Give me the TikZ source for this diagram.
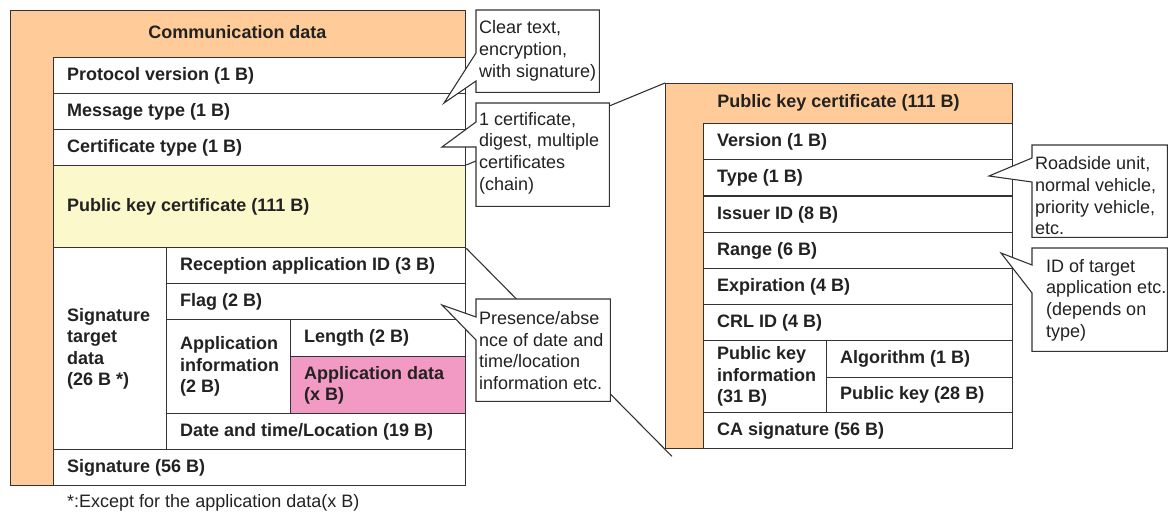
\documentclass[tikz,border=0pt]{standalone}
\usepackage{fontspec}
\setmainfont{Liberation Sans}
\usetikzlibrary{calc}
\definecolor{linec}{HTML}{333333}
\definecolor{orangef}{HTML}{FFCC99}
\definecolor{yellowf}{HTML}{FBF8CC}
\definecolor{pinkf}{HTML}{F299C4}
\definecolor{textc}{HTML}{222222}
\tikzset{
  outerbox/.style={anchor=north west, draw=linec, line width=1.3pt, fill=orangef, inner sep=0pt},
  cellbox/.style={anchor=north west, draw=linec, line width=1.3pt, inner sep=0pt},
  celltext/.style={anchor=west, align=left, inner sep=0pt, text=textc, font=\fontsize{18}{21.5}\selectfont\bfseries},
  hdrtext/.style={anchor=center, inner sep=0pt, text=textc, font=\fontsize{18}{21.5}\selectfont\bfseries},
  callframe/.style={anchor=north west, inner sep=0pt},
  callline/.style={draw=linec, line width=1.1pt, fill=white, line join=miter},
  calltext/.style={anchor=west, align=left, inner sep=0pt, text=textc, font=\fontsize{18}{21.7}\selectfont},
  expline/.style={draw=linec, line width=1.1pt},
}
\newcommand\mycell[7]{%
  \node[cellbox, fill=#6, minimum width=#4, minimum height=#5] (#1) at (#2,#3) {};
  \node[celltext] (#1t) at ([xshift=14]#1.west) {#7};}
\begin{document}
\begin{tikzpicture}[x=1pt,y=-1pt]
\useasboundingbox (0,0) rectangle (1169,513);
% left structure
\node[outerbox, minimum width=455, minimum height=475] (lout) at (10,10) {};
\node[hdrtext] (lhdr) at (237.5,32) {Communication data};
\mycell{pv}{53}{57}{412}{36}{white}{Protocol version (1 B)}
\mycell{mt}{53}{93}{412}{36}{white}{Message type (1 B)}
\mycell{ct}{53}{129}{412}{36}{white}{Certificate type (1 B)}
\mycell{pkc}{53}{165}{412}{82}{yellowf}{Public key certificate (111 B)}
\mycell{std}{53}{247}{113}{202}{white}{Signature\\target\\data\\(26 B *)}
\mycell{rai}{166}{247}{299}{36}{white}{Reception application ID (3 B)}
\mycell{flag}{166}{283}{299}{36}{white}{Flag (2 B)}
\mycell{ai}{166}{319}{124}{94}{white}{Application\\information\\(2 B)}
\mycell{len}{290}{319}{175}{37}{white}{Length (2 B)}
\mycell{ad}{290}{356}{175}{57}{pinkf}{Application data\\(x B)}
\mycell{dt}{166}{413}{299}{36}{white}{Date and time/Location (19 B)}
\mycell{sig}{53}{449}{412}{36}{white}{Signature (56 B)}
\node[anchor=west, inner sep=0pt, text=textc, font=\fontsize{18}{21.5}\selectfont] (note) at (67,503) {*:Except for the application data(x B)};
% right structure
\node[outerbox, minimum width=347, minimum height=365] (rout) at (665,83) {};
\node[hdrtext] (rhdr) at (838.5,103) {Public key certificate (111 B)};
\mycell{ver}{703}{123}{309}{36}{white}{Version (1 B)}
\mycell{typ}{703}{159}{309}{36.5}{white}{Type (1 B)}
\mycell{iss}{703}{195.5}{309}{36.5}{white}{Issuer ID (8 B)}
\mycell{rng}{703}{232}{309}{36}{white}{Range (6 B)}
\mycell{exq}{703}{268}{309}{36}{white}{Expiration (4 B)}
\mycell{crl}{703}{304}{309}{36}{white}{CRL ID (4 B)}
\mycell{pki}{703}{340}{123}{72}{white}{Public key\\information\\(31 B)}
\mycell{alg}{826}{340}{186}{36.5}{white}{Algorithm (1 B)}
\mycell{pkk}{826}{376.5}{186}{35.5}{white}{Public key (28 B)}
\mycell{cas}{703}{412}{309}{36}{white}{CA signature (56 B)}
% expansion lines
\draw[expline] (pkc.north east) -- (rout.north west);
\coordinate (lowend) at ($(pkc.south east)!1.035!(rout.south west)$);
\draw[expline] (pkc.south east) -- (lowend);
% callout 1
\node[callframe, minimum width=123, minimum height=82] (c1) at (476,10) {};
\coordinate (c1a) at (476,53); \coordinate (c1b) at (476,81); \coordinate (c1tip) at (444,103);
\draw[callline] (c1.north west) -- (c1.north east) -- (c1.south east) -- (c1.south west) -- (c1b) -- (c1tip) -- (c1a) -- cycle;
\node[calltext] (c1t) at (479,51) {Clear text,\\encryption,\\with signature)};
% callout 2
\node[callframe, minimum width=133, minimum height=103] (c2) at (476,103) {};
\coordinate (c2a) at (476,122); \coordinate (c2b) at (476,147); \coordinate (c2tip) at (442,147);
\draw[callline] (c2.north west) -- (c2.north east) -- (c2.south east) -- (c2.south west) -- (c2b) -- (c2tip) -- (c2a) -- cycle;
\node[calltext] (c2t) at (479,153) {1 certificate,\\digest, multiple\\certificates\\(chain)};
% callout 3
\node[callframe, minimum width=134, minimum height=102] (c3) at (476,299) {};
\coordinate (c3a) at (476,317); \coordinate (c3b) at (476,340); \coordinate (c3tip) at (442,305);
\draw[callline] (c3.north west) -- (c3.north east) -- (c3.south east) -- (c3.south west) -- (c3b) -- (c3tip) -- (c3a) -- cycle;
\node[calltext] (c3t) at (479,350.5) {Presence/abse\\nce of date and\\time/location\\information etc.};
% callout 4
\node[callframe, minimum width=135, minimum height=92] (c4) at (1032,145) {};
\coordinate (c4a) at (1032,158); \coordinate (c4b) at (1032,182); \coordinate (c4tip) at (989,176);
\draw[callline] (c4.north west) -- (c4.north east) -- (c4.south east) -- (c4.south west) -- (c4b) -- (c4tip) -- (c4a) -- cycle;
\node[calltext] (c4t) at (1035,196) {Roadside unit,\\normal vehicle,\\priority vehicle,\\etc.};
% callout 5
\node[callframe, minimum width=135, minimum height=103] (c5) at (1032,248) {};
\coordinate (c5a) at (1032,265); \coordinate (c5b) at (1032,293); \coordinate (c5tip) at (1001,253);
\draw[callline] (c5.north west) -- (c5.north east) -- (c5.south east) -- (c5.south west) -- (c5b) -- (c5tip) -- (c5a) -- cycle;
\node[calltext] (c5t) at (1046,300) {ID of target\\application etc.\\(depends on\\type)};
\end{tikzpicture}
\end{document}
